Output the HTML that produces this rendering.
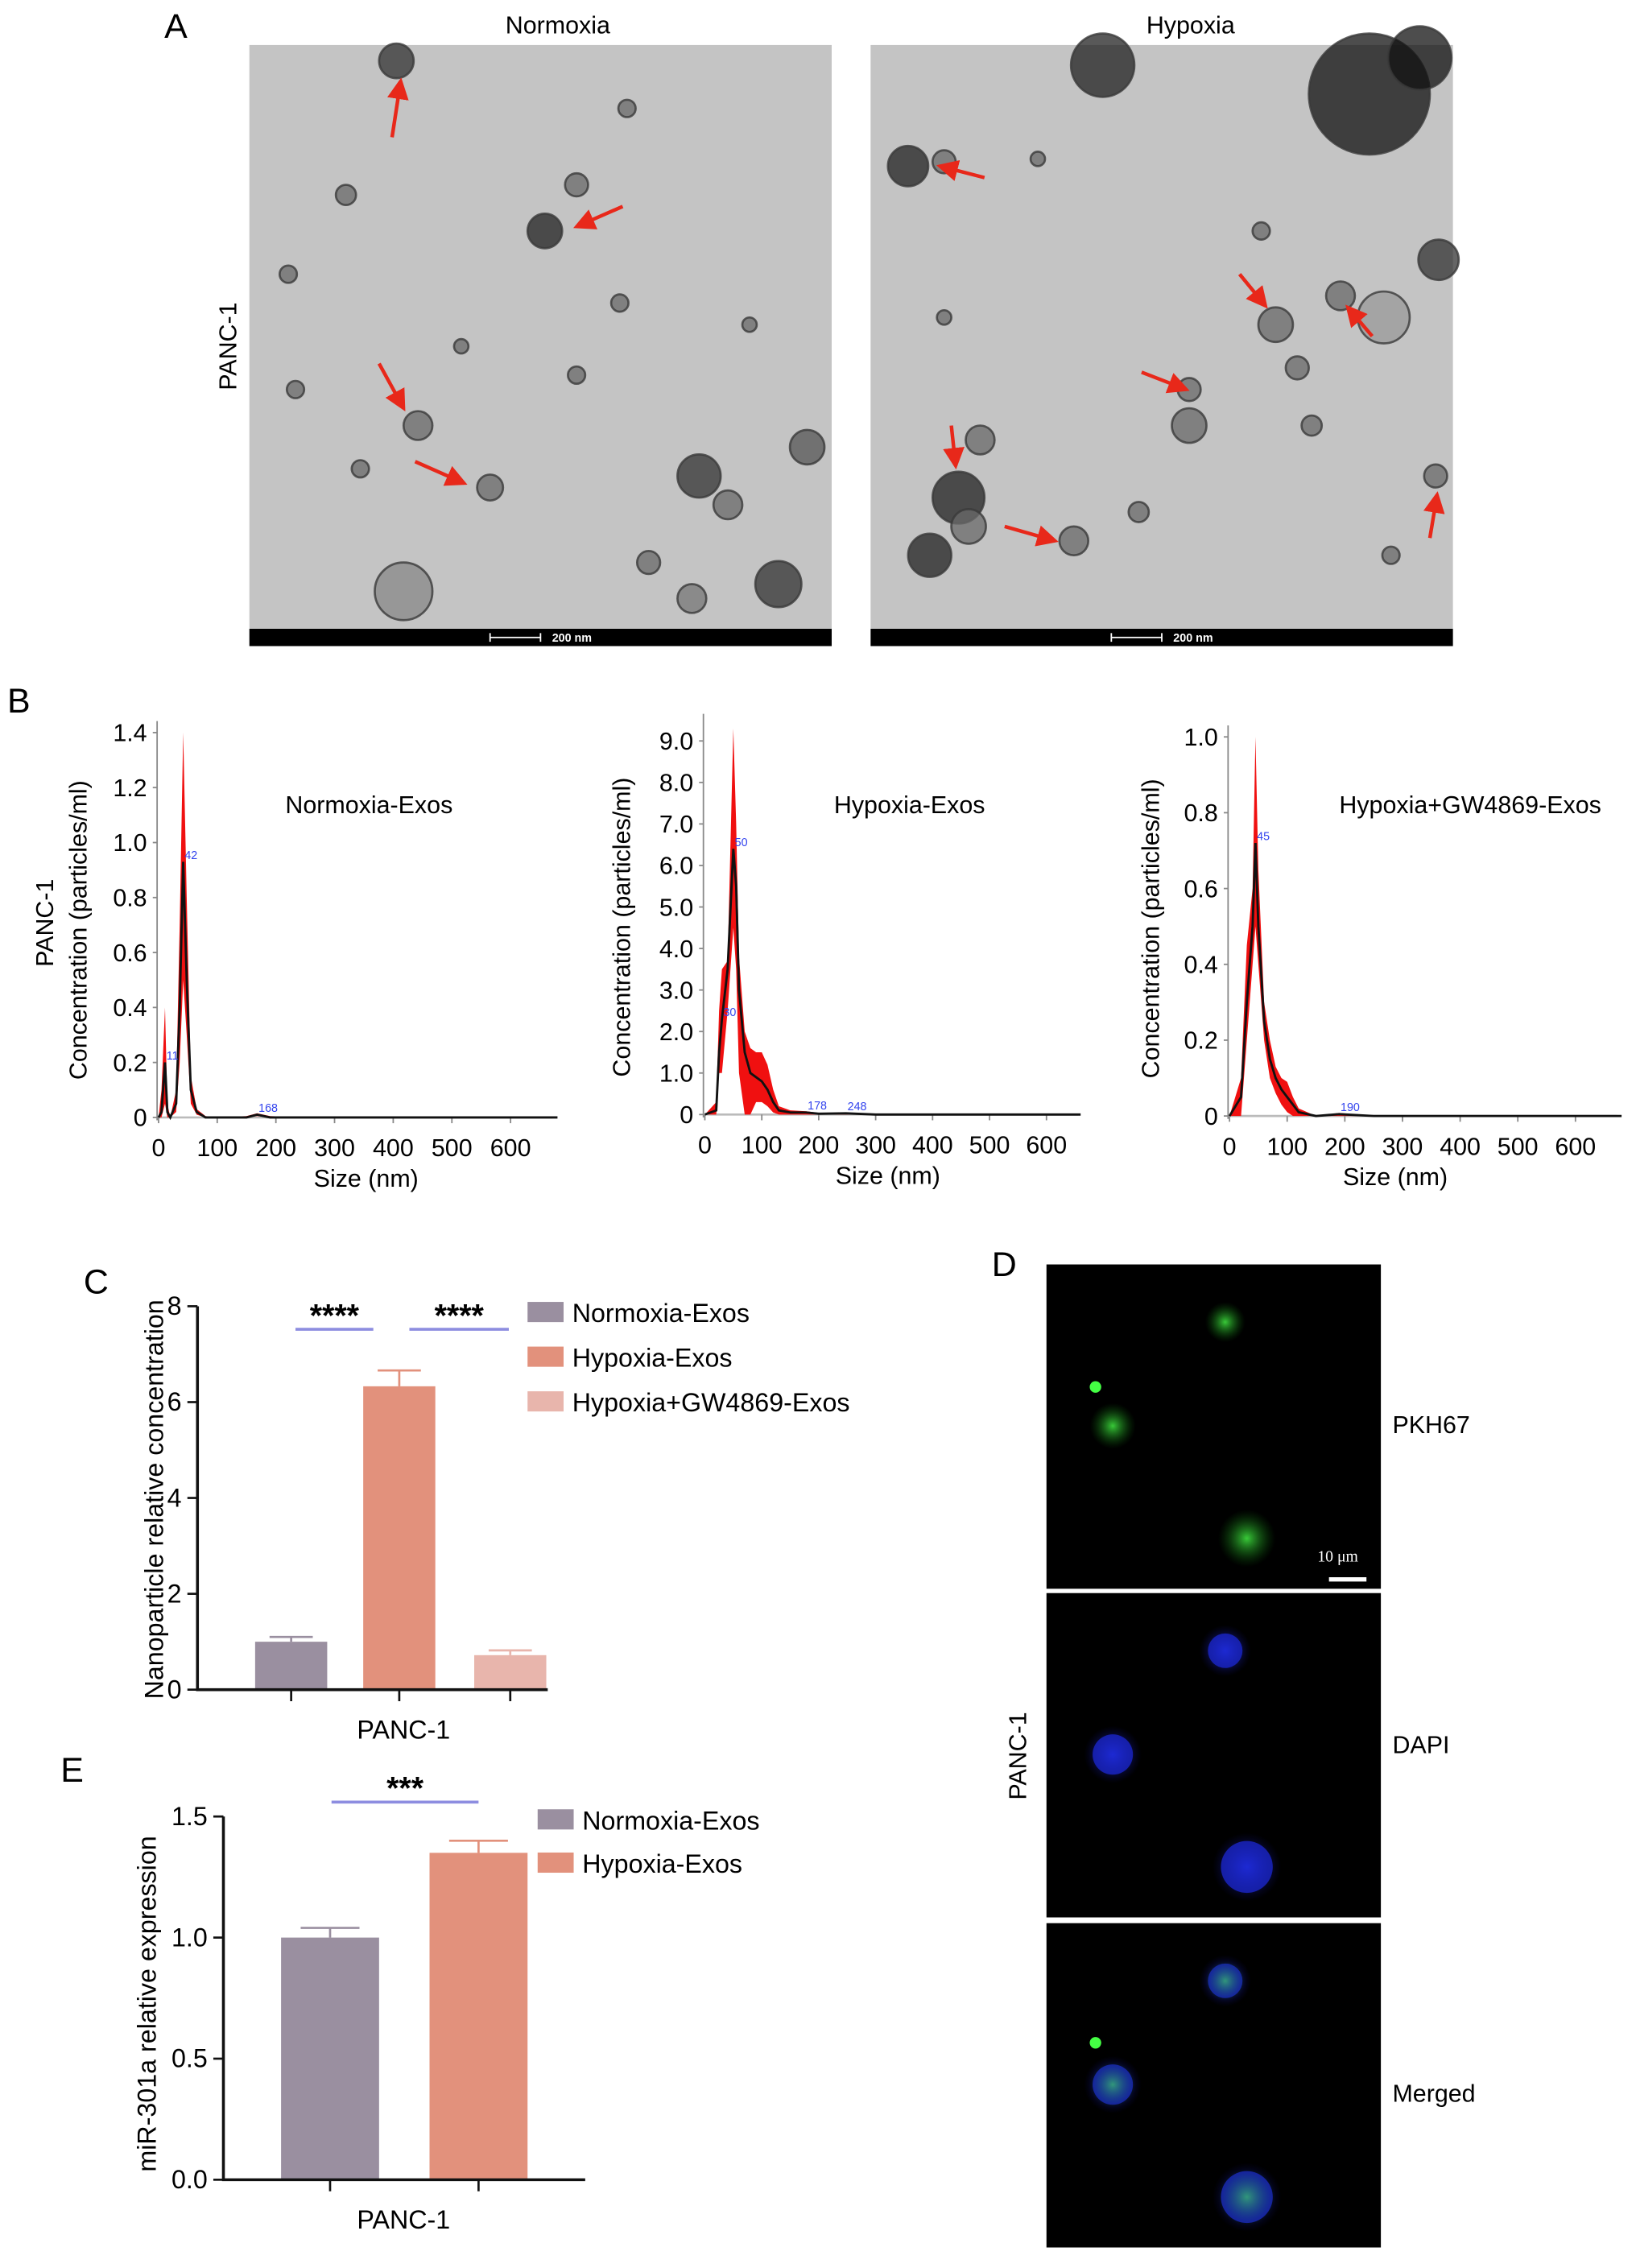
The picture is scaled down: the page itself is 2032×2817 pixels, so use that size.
<!DOCTYPE html>
<html><head><meta charset="utf-8"><style>
html,body{margin:0;padding:0;background:#fff;}
svg{display:block;font-family:"Liberation Sans",Arial,sans-serif;}
</style></head><body>
<svg id="fig" width="2032" height="2817" viewBox="0 0 1135 1573" xmlns="http://www.w3.org/2000/svg">
<defs>
<marker id="ah" markerWidth="6" markerHeight="6" refX="5" refY="3" orient="auto"><path d="M0,0 L6,3 L0,6 z" fill="#e8281a"/></marker>
<radialGradient id="gg"><stop offset="0" stop-color="#3fe03f"/><stop offset="1" stop-color="#0a5a0a" stop-opacity="0"/></radialGradient>
<radialGradient id="bg"><stop offset="0" stop-color="#2a3cff"/><stop offset="1" stop-color="#0a0a60" stop-opacity="0"/></radialGradient>
</defs>
<g id="panelA">
<text x="114" y="26" font-size="24">A</text>
<text x="387" y="23" font-size="17" text-anchor="middle">Normoxia</text>
<text x="826" y="23" font-size="17" text-anchor="middle">Hypoxia</text>
<text transform="translate(164,240) rotate(-90)" font-size="17" text-anchor="middle">PANC-1</text>
<g id="emL"></g>
<g id="emR"></g>
</g>
<g id="panelB">
<text x="5" y="494" font-size="24">B</text>
<text transform="translate(37,640) rotate(-90)" font-size="17" text-anchor="middle">PANC-1</text>
</g>
<g id="panelC">
<text x="58" y="897" font-size="24">C</text>
</g>
<g id="panelE">
<text x="42" y="1236" font-size="24">E</text>
</g>
<g id="panelD">
<text x="688" y="885" font-size="24">D</text>
<text transform="translate(712,1218) rotate(-90)" font-size="17" text-anchor="middle">PANC-1</text>
<text x="966" y="994" font-size="17">PKH67</text>
<text x="966" y="1216" font-size="17">DAPI</text>
<text x="966" y="1458" font-size="17">Merged</text>
</g>
</svg>
<script>
const NS="http://www.w3.org/2000/svg";
function mk(parent,tag,attrs,txt){const e=document.createElementNS(NS,tag);for(const k in attrs)e.setAttribute(k,attrs[k]);if(txt!==undefined)e.textContent=txt;parent.appendChild(e);return e;}

/* ---------- Panel B data ---------- */
const nSizes=[0,5,11,15,20,30,36,42,48,55,65,80,100,150,168,190,250,680];
const nMean=[0,0.02,0.2,0.02,0,0.05,0.4,0.93,0.5,0.1,0.02,0,0,0,0.01,0,0,0];
const nUpper=[0,0.1,0.4,0.05,0,0.1,0.7,1.4,0.8,0.15,0.03,0.005,0,0.005,0.015,0.005,0,0];
const nLower=[0,0,0.05,0,0,0.02,0.2,0.5,0.3,0.05,0.01,0,0,0,0.005,0,0,0];
const hSizes=[0,20,25,30,40,50,55,60,70,80,90,100,110,120,130,150,178,200,248,300,660];
const hMean=[0,0.1,1.5,2.3,3.5,6.4,5.5,3.0,1.5,1.0,0.9,0.8,0.6,0.3,0.1,0.05,0.05,0.02,0.03,0,0];
const hUpper=[0,0.3,2.5,3.5,3.7,9.3,7.0,3.8,2.0,1.6,1.5,1.5,1.2,0.6,0.2,0.1,0.08,0.04,0.05,0,0];
const hLower=[0,0,1,1.0,2.5,4.5,3.5,1,0,0,0.3,0.3,0.2,0.05,0,0,0,0,0,0,0];
const gSizes=[0,20,30,40,45,50,60,70,80,90,100,110,120,150,190,250,680];
const gMean=[0,0.05,0.3,0.5,0.72,0.5,0.25,0.15,0.1,0.07,0.05,0.03,0.01,0,0.005,0,0];
const gUpper=[0,0.1,0.45,0.6,1.0,0.65,0.3,0.2,0.13,0.1,0.09,0.05,0.02,0,0.008,0,0];
const gLower=[0,0,0.2,0.4,0.5,0.4,0.2,0.1,0.06,0.03,0.01,0,0,0,0,0,0];
const nYTicks=["0","0.2","0.4","0.6","0.8","1.0","1.2","1.4"];
const hYTicks=["0","1.0","2.0","3.0","4.0","5.0","6.0","7.0","8.0","9.0"];
const gYTicks=["0","0.2","0.4","0.6","0.8","1.0"];
const xTicks=[0,100,200,300,400,500,600];
const nPeaks=[[11,"11"],[42,"42"],[168,"168"]];
const hPeaks=[[30,"30"],[50,"50"],[178,"178"],[248,"248"]];
const gPeaks=[[45,"45"],[190,"190"]];

function nta(cfg){
  const g=mk(document.getElementById('panelB'),'g',{});
  
  
  const xs=v=>cfg.x0+v*cfg.xs, ys=v=>cfg.y0-v*cfg.ys;
  const ya=mk(g,'line',{x1:cfg.x0-1,x2:cfg.x0-1,y1:cfg.yTop,y2:cfg.y0+2,stroke:'#888','stroke-width':1});
  
  const xa=mk(g,'line',{x1:cfg.x0,x2:cfg.xEnd,y1:cfg.y0,y2:cfg.y0,stroke:'#bbb','stroke-width':1.5});
  
  cfg.yt.forEach(t=>{const v=parseFloat(t);mk(g,'line',{x1:cfg.x0-4,x2:cfg.x0-1,y1:ys(v),y2:ys(v),stroke:'#888'});
    const tl=mk(g,'text',{x:cfg.x0-8,y:ys(v)+6,'font-size':17,'text-anchor':'end'},t);
    });
  xTicks.forEach(v=>{mk(g,'line',{x1:xs(v),x2:xs(v),y1:cfg.y0,y2:cfg.y0+4,stroke:'#888'});
    const tl=mk(g,'text',{x:xs(v),y:cfg.y0+27,'font-size':17,'text-anchor':'middle'},String(v));
    });
  const xt=mk(g,'text',{x:cfg.xTitle,y:cfg.y0+48,'font-size':17,'text-anchor':'middle'},'Size (nm)');
  
  const yt=mk(g,'text',{transform:`translate(${cfg.yTitleX},${cfg.y0-130}) rotate(-90)`,'font-size':17,'text-anchor':'middle'},'Concentration (particles/ml)');
  
  const tt=mk(g,'text',{x:cfg.tx,y:564,'font-size':17,'text-anchor':'middle'},cfg.title);
  
  let d='M'+cfg.sz.map((s,i)=>xs(s)+','+ys(cfg.up[i])).join(' L');
  for(let i=cfg.sz.length-1;i>=0;i--)d+=' L'+xs(cfg.sz[i])+','+ys(cfg.lo[i]);
  const band=mk(g,'path',{d:d+'Z',fill:'#f01010'});
  
  const ln=mk(g,'polyline',{points:cfg.sz.map((s,i)=>xs(s)+','+ys(cfg.m[i])).join(' '),fill:'none',stroke:'#111','stroke-width':1.6});
  
  cfg.pk.forEach(p=>{const i=cfg.sz.indexOf(p[0]);const t=mk(g,'text',{x:xs(p[0])+1,y:ys(cfg.m[i])-2,'font-size':8,fill:'#3344ee'},p[1]);
    });
}
nta({name:'nta-normoxia',x0:110,xs:0.407,xEnd:383,y0:775,ys:190.7,yTop:500,yt:nYTicks,sz:nSizes,m:nMean,up:nUpper,lo:nLower,pk:nPeaks,title:'Normoxia-Exos',tx:256,xTitle:254,yTitleX:60});
nta({name:'nta-hypoxia',x0:489,xs:0.395,xEnd:748,y0:773,ys:28.8,yTop:495,yt:hYTicks,sz:hSizes,m:hMean,up:hUpper,lo:hLower,pk:hPeaks,title:'Hypoxia-Exos',tx:631,xTitle:616,yTitleX:437});
nta({name:'nta-hypoxia-gw4869',x0:853,xs:0.40,xEnd:1122,y0:774,ys:263,yTop:503,yt:gYTicks,sz:gSizes,m:gMean,up:gUpper,lo:gLower,pk:gPeaks,title:'Hypoxia+GW4869-Exos',tx:1020,xTitle:968,yTitleX:804});

/* ---------- Panel C data ---------- */
const cGroups=["Normoxia-Exos","Hypoxia-Exos","Hypoxia+GW4869-Exos"];
const cValues=[1.0,6.33,0.72];
const cErrors=[0.1,0.33,0.1];
const cColors=["#9a8fa0","#e2917c","#e8b5ac"];
const cTicks=[0,2,4,6,8];
/* ---------- Panel E data ---------- */
const eGroups=["Normoxia-Exos","Hypoxia-Exos"];
const eValues=[1.0,1.35];
const eErrors=[0.04,0.05];
const eTicks=["0.0","0.5","1.0","1.5"];

function bars(cfg){
  const g=mk(document.getElementById(cfg.panel),'g',{});
  
  const ys=v=>cfg.y0-v*cfg.ys;
  cfg.vals.forEach((v,i)=>{
    const cx=cfg.cx[i];
    const b=mk(g,'rect',{x:cx-cfg.bw/2,y:ys(v),width:cfg.bw,height:cfg.y0-ys(v),fill:cfg.colors[i]});
    
    const e=mk(g,'path',{d:`M${cx},${ys(v)} V${ys(v+cfg.err[i])} M${cx-cfg.bw*0.3},${ys(v+cfg.err[i])} H${cx+cfg.bw*0.3}`,stroke:cfg.colors[i],'stroke-width':1.5,fill:'none'});
    
    mk(g,'line',{x1:cx,x2:cx,y1:cfg.y0,y2:cfg.y0+8,stroke:'#111','stroke-width':1.5});
    const ly=cfg.ly+i*cfg.lg;
    const lr=mk(g,'rect',{x:cfg.lx,y:ly-7,width:25,height:14,fill:cfg.colors[i]});
    
    const lt=mk(g,'text',{x:cfg.lx+31,y:ly+7,'font-size':18},cfg.groups[i]);
    
  });
  const ax=mk(g,'path',{d:`M${cfg.x0},${ys(cfg.ymax)} V${cfg.y0} H${cfg.xEnd}`,stroke:'#111','stroke-width':2,fill:'none'});
  
  cfg.ticks.forEach(t=>{const v=parseFloat(t);mk(g,'line',{x1:cfg.x0-7,x2:cfg.x0,y1:ys(v),y2:ys(v),stroke:'#111','stroke-width':1.5});
    const tl=mk(g,'text',{x:cfg.x0-11,y:ys(v)+6,'font-size':18,'text-anchor':'end'},String(t));
    });
  const xl=mk(g,'text',{x:280,y:cfg.y0+34,'font-size':18,'text-anchor':'middle'},'PANC-1');
  
  const yt=mk(g,'text',{transform:`translate(${cfg.ytx},${cfg.yty}) rotate(-90)`,'font-size':18,'text-anchor':'middle'},cfg.ytitle);
  
  cfg.sig.forEach(s=>{const l=mk(g,'line',{x1:s[0],x2:s[1],y1:s[2],y2:s[2],stroke:'#8d8de0','stroke-width':2});
    
    const t=mk(g,'text',{x:(s[0]+s[1])/2,y:s[2]-2,'font-size':22,'font-weight':'bold','text-anchor':'middle'},s[3]);
    });
}
bars({panel:'panelC',name:'bar-chart-concentration',groups:cGroups,vals:cValues,err:cErrors,colors:cColors,ticks:cTicks,ymax:8,
  x0:137,xEnd:380,y0:1172,ys:33.25,cx:[202,277,354],bw:50,lx:366,ly:910,lg:31,ytx:113,yty:1040,ytitle:'Nanoparticle relative concentration',
  sig:[[205,259,922,'****'],[284,353,922,'****']]});
bars({panel:'panelE',name:'bar-chart-mir301a',groups:eGroups,vals:eValues,err:eErrors,colors:cColors,ticks:eTicks,ymax:1.5,
  x0:155,xEnd:406,y0:1512,ys:168,cx:[229,332],bw:68,lx:373,ly:1262,lg:30,ytx:108,yty:1390,ytitle:'miR-301a relative expression',
  sig:[[230,332,1250,'***']]});

/* ---------- Panel A: TEM images (decorative) ---------- */
function tem(id,x0,blobs,arrows){
  const g=document.getElementById(id);
  mk(g,'rect',{x:x0,y:31,width:404,height:405,fill:'#c4c4c4'});
  blobs.forEach(b=>{const c=mk(g,'circle',{cx:b[0],cy:b[1],r:b[2],fill:b[3]||'#6a6a6a',stroke:'#3a3a3a','stroke-width':b[2]>4?1.5:0,'fill-opacity':0.75,'stroke-opacity':0.8});
    });
  arrows.forEach(a=>{const l=mk(g,'line',{x1:a[0],y1:a[1],x2:a[2],y2:a[3],stroke:'#e8281a','stroke-width':2.5,'marker-end':'url(#ah)'});
    });
  mk(g,'rect',{x:x0,y:436,width:404,height:12,fill:'#000'});
  mk(g,'path',{d:`M${x0+167},${442} H${x0+202} M${x0+167},439 V445 M${x0+202},439 V445`,stroke:'#fff','stroke-width':1});
  const t=mk(g,'text',{x:x0+210,y:445,'font-size':8,fill:'#fff','font-weight':'bold'},'200 nm');
  
}
tem('emL',173,[[275,42,12,'#333'],[378,160,12,'#222'],[400,128,8],[290,295,10],[340,338,9],[240,135,7],[205,270,6],[435,75,6],[430,210,6],[485,330,15,'#333'],[505,350,10],[540,405,16,'#333'],[280,410,20,'#888'],[450,390,8],[320,240,5],[250,325,6],[400,260,6],[520,225,5],[200,190,6],[560,310,12,'#555'],[480,415,10,'#777']],
  [[272,95,278,56],[432,143,400,157],[263,252,280,283],[288,320,322,335]]);
tem('emR',604,[[950,65,42,'#111'],[985,40,22,'#111'],[765,45,22,'#222'],[630,115,14,'#222'],[655,112,8],[680,305,10],[665,345,18,'#222'],[645,385,15,'#222'],[672,365,12],[745,375,10],[825,295,12],[825,270,8],[885,225,12],[930,205,10],[900,255,8],[996,330,8],[998,180,14,'#333'],[960,220,18,'#999'],[875,160,6],[790,355,7],[965,385,6],[910,295,7],[655,220,5],[720,110,5]],
  [[683,123,652,115],[860,190,878,212],[952,233,935,213],[792,258,823,270],[660,295,663,323],[697,365,732,375],[992,373,997,343]]);

/* ---------- Panel D: fluorescence ---------- */
const pd=document.getElementById('panelD');
const dTops=[877,1105,1334];
const dNames=['pkh67-image','dapi-image','merged-image'];
const cells=[[850,40,14],[772,112,16],[865,190,20]];
dTops.forEach((t,k)=>{
  const r=mk(pd,'rect',{x:726,y:t,width:232,height:225,fill:'#000'});
  
  cells.forEach(c=>{
    if(k>=1){const b=mk(pd,'circle',{cx:c[0],cy:t+c[1],r:c[2]+4,fill:'url(#bg)'});
      mk(pd,'circle',{cx:c[0],cy:t+c[1],r:c[2]-2,fill:'#1a25c8','fill-opacity':0.8});}
    if(k!=1){const gcl=mk(pd,'circle',{cx:c[0],cy:t+c[1],r:c[2],fill:'url(#gg)','fill-opacity':k==0?0.9:0.6});}
  });
  if(k!=1){mk(pd,'circle',{cx:760,cy:t+85-(k==0?0:2),r:4,fill:'#4f4'});}
});
mk(pd,'rect',{x:922,y:1094,width:26,height:3,fill:'#fff'});
const sb=mk(pd,'text',{x:914,y:1083,'font-size':11,fill:'#fff','font-family':'Liberation Serif'},'10 μm');

</script>
</body></html>
